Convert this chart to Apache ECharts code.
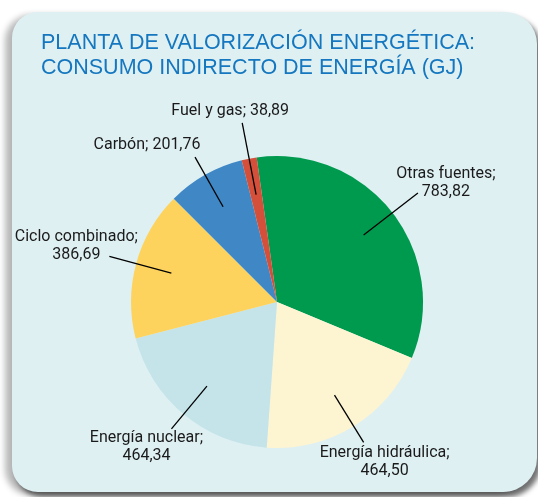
<!DOCTYPE html>
<html>
<head>
    <meta charset="utf-8">
    <title>Consumo indirecto de energía</title>
    <script src="https://cdn.jsdelivr.net/npm/echarts@6/dist/echarts.min.js"></script>
    <style>
        html, body { margin: 0; padding: 0; background: #fff; }
        #panel {
            position: absolute; left: 12px; top: 12px; width: 525px; height: 480px;
            background: #dff0f3;
            border-radius: 26px 32px 34px 26px;
            box-shadow: -7px 3px 6px rgba(0,0,0,0.28), 4px 5px 5px rgba(0,0,0,0.55);
        }
        #chart { position: absolute; left: 0; top: 0; width: 538px; height: 497px; }
    </style>
</head>
<body>
<div id="panel"></div>
<div id="chart"></div>
<script type="text/javascript">
    // datos (GJ)
    var fuentes = ['Otras fuentes', 'Energía hidráulica', 'Energía nuclear', 'Ciclo combinado', 'Carbón', 'Fuel y gas'];
    var consumo = [783.82, 464.50, 464.34, 386.69, 201.76, 38.89];
    var colores = ['#009a4f', '#fdf4d1', '#c4e4ea', '#fdd35e', '#3f87c5', '#d5503a'];

    // etiquetas en una sola linea
    var unaLinea = ['Carbón', 'Fuel y gas'];
    // final de la linea guia (en radios) y desplazamiento del texto respecto a ese punto
    var largo = [1.22, 1.13, 1.13, 1.19, 1.14, 1.25];
    var desp = [[28, -10], [21, 20], [-25, 18], [-33, -10], [-48, -12], [-12, -12]];

    var cx = 277, cy = 302, radio = 146;

    var pieData = [];
    for (var i = 0; i < fuentes.length; i++) {
        pieData.push({ name: fuentes[i], value: consumo[i], itemStyle: { color: colores[i] } });
    }

    var chart = echarts.init(document.getElementById('chart'));
    var option = {
        backgroundColor: 'transparent',
        title: {
            text: 'PLANTA DE VALORIZACIÓN ENERGÉTICA:\nCONSUMO INDIRECTO DE ENERGÍA (GJ)',
            left: 41,
            top: 31,
            padding: 0,
            textStyle: {
                color: '#1477bf',
                fontFamily: 'Liberation Sans, Arial, sans-serif',
                fontWeight: 'normal',
                fontSize: 21.5,
                lineHeight: 25
            }
        },
        series: [{
            // sectores
            type: 'pie',
            center: [cx, cy],
            radius: radio,
            startAngle: 98,
            animation: false,
            silent: true,
            itemStyle: { borderWidth: 0 },
            label: { show: false },
            labelLine: { show: false },
            data: pieData
        }, {
            // etiquetas y lineas guia por encima
            type: 'pie',
            z: 5,
            center: [cx, cy],
            radius: radio,
            startAngle: 98,
            avoidLabelOverlap: false,
            animation: false,
            silent: true,
            itemStyle: { color: 'rgba(0,0,0,0)', borderWidth: 0 },
            data: fuentes.map(function (f, i) { return { name: f, value: consumo[i] }; }),
            label: {
                show: true,
                position: 'outside',
                color: '#1a1a1a',
                fontFamily: 'Roboto, Liberation Sans, sans-serif',
                fontSize: 16,
                lineHeight: 18,
                formatter: function (p) {
                    var v = p.value.toFixed(2).replace('.', ',');
                    return p.name + (unaLinea.indexOf(p.name) >= 0 ? '; ' : ';\n') + v;
                }
            },
            labelLine: {
                show: true,
                length: 20,
                length2: 0,
                lineStyle: { color: '#000', width: 1.3 }
            },
            labelLayout: function (params) {
                var k = params.dataIndex;
                var p0 = params.labelLinePoints[0];
                var dx = p0[0] - cx, dy = p0[1] - cy;
                var d = Math.sqrt(dx * dx + dy * dy);
                var ux = dx / d, uy = dy / d;
                var ini = [cx + ux * radio * 0.75, cy + uy * radio * 0.75];
                var fin = [cx + ux * radio * largo[k], cy + uy * radio * largo[k]];
                return {
                    x: fin[0] + desp[k][0],
                    y: fin[1] + desp[k][1],
                    align: 'center',
                    verticalAlign: 'middle',
                    labelLinePoints: [ini, fin, fin]
                };
            }
        }]
    };
    chart.setOption(option);
</script>
</body>
</html>
